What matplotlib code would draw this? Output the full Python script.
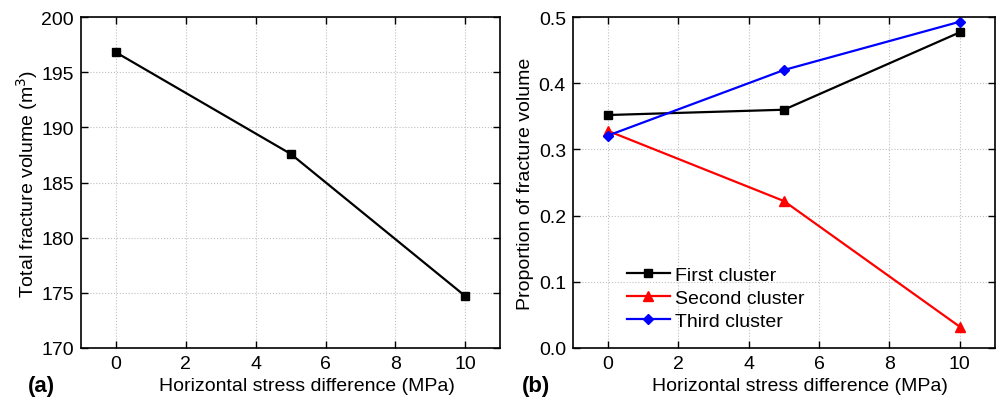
import matplotlib
matplotlib.use("Agg")
import matplotlib.pyplot as plt

plt.rcParams['font.family'] = ['Liberation Sans', 'DejaVu Sans']

x = [0, 5, 10]
total_volume = [196.8, 187.6, 174.7]
first_cluster = [0.352, 0.360, 0.477]
second_cluster = [0.328, 0.222, 0.032]
third_cluster = [0.321, 0.420, 0.493]

fs = 14
fig = plt.figure(figsize=(9.98, 4.02), dpi=100)
ax1 = fig.add_axes([0.0812, 0.132, 0.42, 0.823])
ax2 = fig.add_axes([0.574, 0.132, 0.423, 0.823])

def style(ax):
    ax.grid(True, linestyle=':', color='#c0c0c0', linewidth=0.8)
    ax.tick_params(direction='in', top=True, right=True, labelsize=fs, length=5, width=1, pad=5)
    for s in ax.spines.values():
        s.set_linewidth(1.2)
    ax.set_xlim(-1, 11)
    ax.set_xticks([0, 2, 4, 6, 8, 10])
    ax.set_xlabel('Horizontal stress difference (MPa)', fontsize=fs)
    ax.xaxis.set_label_coords(0.538, -0.087, transform=ax.transAxes)
    ax.xaxis.label.set_va('top')

ax1.plot(x, total_volume, color='black', marker='s', markersize=6, linewidth=1.6)
ax1.set_ylim(170, 200)
ax1.set_yticks([170, 175, 180, 185, 190, 195, 200])
ax1.set_ylabel('Total fracture volume (m$^3$)', fontsize=fs, labelpad=1)
style(ax1)

ax2.plot(x, first_cluster, color='black', marker='s', markersize=6, linewidth=1.6, label='First cluster')
ax2.plot(x, second_cluster, color='red', marker='^', markersize=7, linewidth=1.6, label='Second cluster')
ax2.plot(x, third_cluster, color='blue', marker='D', markersize=5.5, linewidth=1.6, label='Third cluster')
ax2.set_ylim(0, 0.5)
ax2.set_yticks([0.0, 0.1, 0.2, 0.3, 0.4, 0.5])
ax2.set_yticklabels(['0.0', '0.1', '0.2', '0.3', '0.4', '0.5'])
ax2.set_ylabel('Proportion of fracture volume', fontsize=fs, labelpad=3)
style(ax2)
ax2.legend(loc='upper left', bbox_to_anchor=(0.11, 0.27), frameon=False, fontsize=fs,
           handlelength=2.2, handletextpad=0.25, labelspacing=0.28, borderaxespad=0)

fig.text(0.028, 0.025, '(a)', fontsize=16, fontweight='bold')
fig.text(0.523, 0.025, '(b)', fontsize=16, fontweight='bold')

fig.savefig('out.png', dpi=100)
